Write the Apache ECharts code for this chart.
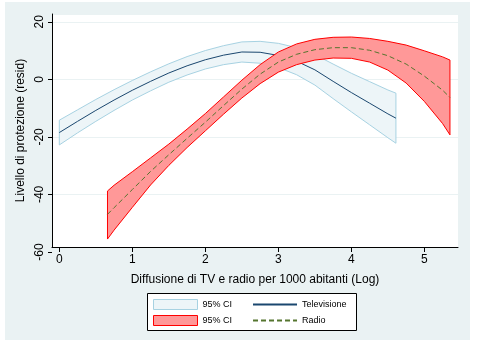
<!DOCTYPE html>
<html><head><meta charset="utf-8">
<script src="https://cdn.jsdelivr.net/npm/echarts@6/dist/echarts.min.js"></script>
<style>html,body{margin:0;padding:0;background:#fff}#c{width:477px;height:346px}</style>
</head><body><div id="c"></div>
<script>
// ---- data ----
const tvX     = [0, 0.25, 0.5, 0.75, 1.0, 1.25, 1.5, 1.75, 2.0, 2.25, 2.5, 2.75, 3.0, 3.25, 3.5, 3.75, 4.0, 4.25, 4.5, 4.61];
const tvFit   = [-18.5, -14.6, -10.8, -7.2, -3.8, -0.7, 2.2, 4.7, 6.8, 8.4, 9.5, 9.4, 8.3, 6.3, 3.3, -0.7, -4.6, -8.3, -12.0, -13.5];
const tvUpper = [-14.2, -10.6, -7.0, -3.6, -0.4, 2.6, 5.4, 7.9, 10.0, 11.7, 13.0, 13.2, 12.5, 11.0, 8.6, 5.3, 2.1, -0.8, -3.7, -4.8];
const tvLower = [-22.8, -18.6, -14.6, -10.8, -7.2, -4.0, -1.0, 1.5, 3.6, 5.1, 6.0, 5.6, 4.1, 1.6, -2.0, -6.7, -11.3, -15.8, -20.3, -22.2];

const radioX     = [0.66, 0.75, 1.0, 1.25, 1.5, 1.75, 2.0, 2.25, 2.5, 2.75, 3.0, 3.25, 3.5, 3.75, 4.0, 4.25, 4.5, 4.75, 5.0, 5.25, 5.35];
const radioFit   = [-46.9, -44.6, -38.3, -32.0, -26.2, -20.5, -14.9, -9.1, -3.4, 1.8, 6.0, 8.7, 10.3, 11.0, 11.0, 10.1, 8.2, 5.3, 1.1, -3.8, -6.3];
const radioUpper = [-38.8, -36.8, -32.1, -27.3, -22.5, -17.3, -11.9, -6.1, -0.3, 5.1, 9.5, 12.3, 13.9, 14.6, 14.7, 14.2, 13.2, 11.9, 9.9, 7.8, 6.7];
const radioLower = [-55.5, -52.4, -44.5, -36.7, -29.9, -23.7, -17.9, -12.1, -6.5, -1.5, 2.5, 5.1, 6.7, 7.4, 7.3, 6.0, 3.2, -1.3, -7.7, -15.4, -19.3];

const xTicks = [0, 1, 2, 3, 4, 5];
const yTicks = [-60, -40, -20, 0, 20];

const xTitle = 'Diffusione di TV e radio per 1000 abitanti (Log)';
const yTitle = 'Livello di protezione (resid)';
const ciLabel = '95% CI';
const tvName = 'Televisione';
const radioName = 'Radio';

// ---- styles ----
const BG = '#eaf2f3';
const FONT = 'Liberation Sans, Arial, sans-serif';
const tvBandFill = '#edf5f8', tvBandEdge = '#a7d2e2';
const rBandFill = '#ff9898', rBandEdge = '#ff0000';
const tvLine = '#1a476f', rLine = '#55752f';
const noSymbol = { color: 'rgba(0,0,0,0)', borderColor: 'rgba(0,0,0,0)', borderWidth: 0, opacity: 0 };

function pairs(xs, ys) { return xs.map((x, i) => [x, ys[i]]); }
function bandItem(xs, lo, hi, fill, stroke) {
  return function (params, api) {
    const pts = [];
    for (let i = 0; i < xs.length; i++) pts.push(api.coord([xs[i], hi[i]]));
    for (let i = xs.length - 1; i >= 0; i--) pts.push(api.coord([xs[i], lo[i]]));
    return { type: 'polygon', shape: { points: pts }, style: { fill: fill, stroke: stroke, lineWidth: 1 } };
  };
}

const chart = echarts.init(document.getElementById('c'));
chart.setOption({
  backgroundColor: '#ffffff',
  animation: false,
  textStyle: { fontFamily: FONT },
  graphic: [
    { type: 'rect', z: -10, shape: { x: 5, y: 2, width: 465, height: 338 }, style: { fill: BG } },
    { type: 'rect', z: 1, shape: { x: 147.5, y: 293.5, width: 209, height: 37 }, style: { fill: '#fff', stroke: '#000', lineWidth: 1 } }
  ],
  grid: [
    { left: 52, right: 19, top: 14, bottom: 99, show: true, backgroundColor: '#fff', borderWidth: 0 },
    { left: 52, right: 19, top: 14, bottom: 94, show: false }
  ],
  xAxis: [
    { gridIndex: 0, type: 'value', min: -0.1, max: 5.46,
      axisLine: { show: true, onZero: false, lineStyle: { color: '#000', width: 1 } },
      axisTick: { show: true, length: 5, customValues: xTicks, lineStyle: { color: '#000' } },
      axisLabel: { customValues: xTicks, fontSize: 12, color: '#000', margin: 7, fontFamily: FONT },
      splitLine: { show: false },
      name: xTitle, nameLocation: 'middle', nameGap: 27,
      nameTextStyle: { fontSize: 12, color: '#000', fontFamily: FONT } },
    { gridIndex: 1, type: 'value', min: -0.1, max: 5.46, show: false }
  ],
  yAxis: [
    { gridIndex: 0, type: 'value', min: -58.26, max: 22.7, splitNumber: 4,
      axisLine: { show: true, onZero: false, lineStyle: { color: '#000', width: 1 } },
      axisTick: { show: false }, axisLabel: { show: false },
      splitLine: { show: true, lineStyle: { color: BG, width: 1 } },
      name: yTitle, nameLocation: 'middle', nameGap: 25,
      nameTextStyle: { fontSize: 12, color: '#000', fontFamily: FONT } },
    { gridIndex: 1, type: 'value', min: -60, max: 22.7,
      axisLine: { show: false, onZero: false },
      axisTick: { show: true, length: 4, customValues: yTicks, lineStyle: { color: '#000' } },
      axisLabel: { customValues: yTicks, rotate: 90, fontSize: 12, color: '#000', margin: 6, fontFamily: FONT },
      splitLine: { show: false } }
  ],
  legend: [
    { left: 153, top: 299, padding: 0, itemWidth: 44, itemHeight: 10, itemGap: 20,
      textStyle: { fontSize: 9, color: '#000', fontFamily: FONT },
      formatter: n => n.indexOf(ciLabel) === 0 ? ciLabel : n,
      data: [
        { name: ciLabel + ' (TV)', icon: 'rect', itemStyle: { color: tvBandFill, borderColor: tvBandEdge, borderWidth: 1 } },
        { name: tvName, itemStyle: noSymbol }
      ] },
    { left: 153, top: 315, padding: 0, itemWidth: 44, itemHeight: 10, itemGap: 20,
      textStyle: { fontSize: 9, color: '#000', fontFamily: FONT },
      formatter: n => n.indexOf(ciLabel) === 0 ? ciLabel : n,
      data: [
        { name: ciLabel + ' (Radio)', icon: 'rect', itemStyle: { color: rBandFill, borderColor: rBandEdge, borderWidth: 1 } },
        { name: radioName, itemStyle: noSymbol }
      ] }
  ],
  series: [
    { name: ciLabel + ' (TV)', type: 'custom', xAxisIndex: 0, yAxisIndex: 0, z: 2,
      itemStyle: { color: tvBandFill, borderColor: tvBandEdge },
      renderItem: bandItem(tvX, tvLower, tvUpper, tvBandFill, tvBandEdge),
      data: [[tvX[0], tvFit[0]]] },
    { name: tvName, type: 'line', xAxisIndex: 0, yAxisIndex: 0, z: 3, symbol: 'none', smooth: false,
      lineStyle: { color: tvLine, width: 1 }, itemStyle: { color: tvLine },
      data: pairs(tvX, tvFit) },
    { name: ciLabel + ' (Radio)', type: 'custom', xAxisIndex: 0, yAxisIndex: 0, z: 4,
      itemStyle: { color: rBandFill, borderColor: rBandEdge },
      renderItem: bandItem(radioX, radioLower, radioUpper, rBandFill, rBandEdge),
      data: [[radioX[0], radioFit[0]]] },
    { name: radioName, type: 'line', xAxisIndex: 0, yAxisIndex: 0, z: 5, symbol: 'none', smooth: false,
      lineStyle: { color: rLine, width: 1, type: [5, 3] }, itemStyle: { color: rLine },
      data: pairs(radioX, radioFit) }
  ]
});
</script></body></html>
